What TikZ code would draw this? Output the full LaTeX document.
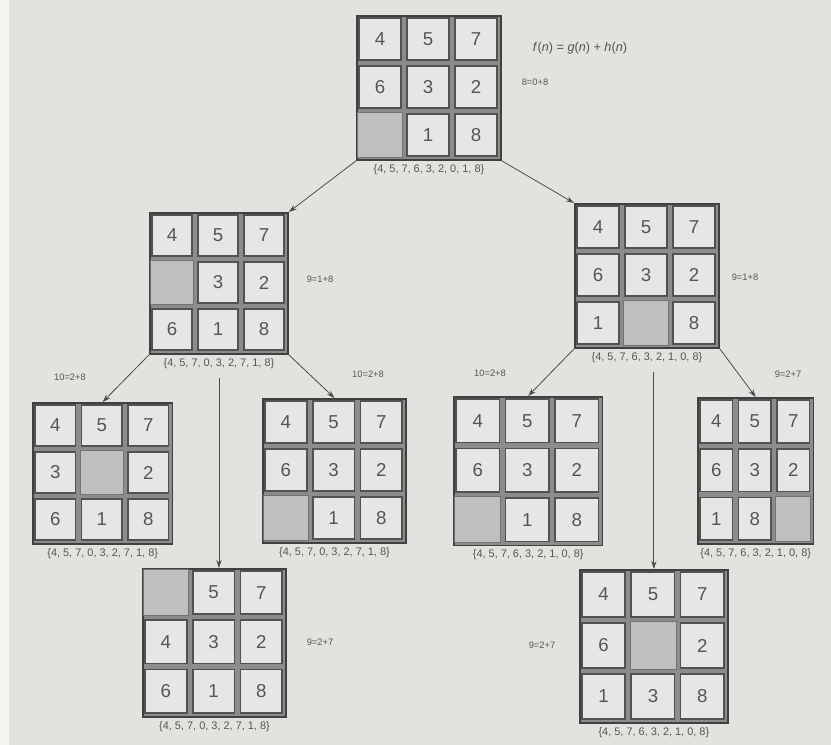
\documentclass[tikz,border=0pt]{standalone}
\usepackage{fontspec}
\setmainfont{Liberation Sans}
\usetikzlibrary{arrows.meta, positioning}

\definecolor{paper}{RGB}{226,226,223}
\definecolor{tilefill}{RGB}{230,230,228}
\definecolor{ink}{RGB}{85,85,85}

% one 3x3 board: name, left x, top y, cell width, cell height, tiles (0 = blank), caption
\newcommand{\drawboard}[7]{
    \node[boardframe, anchor=north west,
          minimum width=3*#4*0.75pt, minimum height=3*#5*0.75pt] (#1) at (#2,#3) {};
    \foreach \t [count=\i from 0] in {#6}{
        \pgfmathtruncatemacro{\cc}{mod(\i,3)}
        \pgfmathtruncatemacro{\rr}{div(\i,3)}
        \ifnum\t=0
            \node[blankcell, minimum width=#4*0.75pt-2.5pt, minimum height=#5*0.75pt-2.5pt]
                (#1-\i) at (#2+\cc*#4+#4/2, #3+\rr*#5+#5/2) {};
        \else
            \node[tile, minimum width=#4*0.75pt-4.5pt, minimum height=#5*0.75pt-4.5pt]
                (#1-\i) at (#2+\cc*#4+#4/2, #3+\rr*#5+#5/2) {\t};
        \fi
    }
    \node[caption, below=1.5pt of #1] (#1-cap) {#7};
}

\begin{document}
\begin{tikzpicture}[
    x=0.75pt, y=-0.75pt,
    boardframe/.style={draw=black!75, line width=1.4pt, fill=black!45, inner sep=0pt},
    tile/.style={draw=black!68, line width=1.3pt, fill=tilefill, inner sep=0pt,
                 text=ink, font=\fontsize{14}{16}\selectfont},
    blankcell/.style={draw=black!55, line width=0.6pt, fill=black!25, inner sep=0pt},
    caption/.style={text=ink, font=\fontsize{8.2}{9}\selectfont, inner sep=1pt},
    cost/.style={text=ink, font=\fontsize{7}{8}\selectfont, inner sep=1pt},
    arrow/.style={draw=black!70, line width=0.6pt, -{Stealth[length=6pt, width=4pt]}}
]

% ---------- page ----------
\fill[paper] (0,0) rectangle (831,745);
\fill[white!60!paper] (0,0) rectangle (9,745);
\useasboundingbox (0,0) rectangle (831,745);

% ---------- root ----------
\drawboard{b0}{356}{15}{48}{48}{4,5,7,6,3,2,0,1,8}{\{4, 5, 7, 6, 3, 2, 0, 1, 8\}}
\node[text=ink, font=\fontsize{9.5}{11}\selectfont] (fn) at (580,48)
    {\textit{f}(\textit{n}) = \textit{g}(\textit{n}) + \textit{h}(\textit{n})};
\node[cost] (c0) at (535,82) {8=0+8};

% ---------- level 1 ----------
\drawboard{b1}{149}{212}{46}{47}{4,5,7,0,3,2,6,1,8}{\{4, 5, 7, 0, 3, 2, 7, 1, 8\}}
\node[cost] (c1) at (320,279) {9=1+8};

\drawboard{b2}{574}{203}{48}{48}{4,5,7,6,3,2,1,0,8}{\{4, 5, 7, 6, 3, 2, 1, 0, 8\}}
\node[cost] (c2) at (745,277) {9=1+8};

% ---------- level 2 ----------
\drawboard{b3}{32}{402}{46.5}{47}{4,5,7,3,0,2,6,1,8}{\{4, 5, 7, 0, 3, 2, 7, 1, 8\}}
\node[cost] (c3) at (70,377) {10=2+8};

\drawboard{b4}{262}{398}{47.7}{48}{4,5,7,6,3,2,0,1,8}{\{4, 5, 7, 0, 3, 2, 7, 1, 8\}}
\node[cost] (c4) at (368,374) {10=2+8};

\drawboard{b5}{453}{396}{49.5}{49.5}{4,5,7,6,3,2,0,1,8}{\{4, 5, 7, 6, 3, 2, 1, 0, 8\}}
\node[cost] (c5) at (490,373) {10=2+8};

\drawboard{b6}{697}{397}{38.5}{48.7}{4,5,7,6,3,2,1,8,0}{\{4, 5, 7, 6, 3, 2, 1, 0, 8\}}
\node[cost] (c6) at (788,374) {9=2+7};

% ---------- level 3 ----------
\drawboard{b7}{142}{568}{47.7}{49.3}{0,5,7,4,3,2,6,1,8}{\{4, 5, 7, 0, 3, 2, 7, 1, 8\}}
\node[cost] (c7) at (320,642) {9=2+7};

\drawboard{b8}{579}{569}{49.3}{51}{4,5,7,6,0,2,1,3,8}{\{4, 5, 7, 6, 3, 2, 1, 0, 8\}}
\node[cost] (c8) at (542,645) {9=2+7};

% ---------- moves ----------
\draw[arrow] (b0.south west) -- (b1.north east);
\draw[arrow] (b0.south east) -- (b2.north west);
\draw[arrow] (b1.south west) -- (b3.north);
\draw[arrow] (b1.south east) -- (b4.north);
\draw[arrow] (b2.south west) -- (b5.north);
\draw[arrow] (b2.south east) -- (b6.north);
\coordinate[below=6pt of b1-cap.south] (v1);
\coordinate[below=6pt of b2-cap.south] (v2);
\draw[arrow] (v1) -- (v1 |- b7.north);
\draw[arrow] (v2 -| b8.north) -- (b8.north);

\end{tikzpicture}
\end{document}
